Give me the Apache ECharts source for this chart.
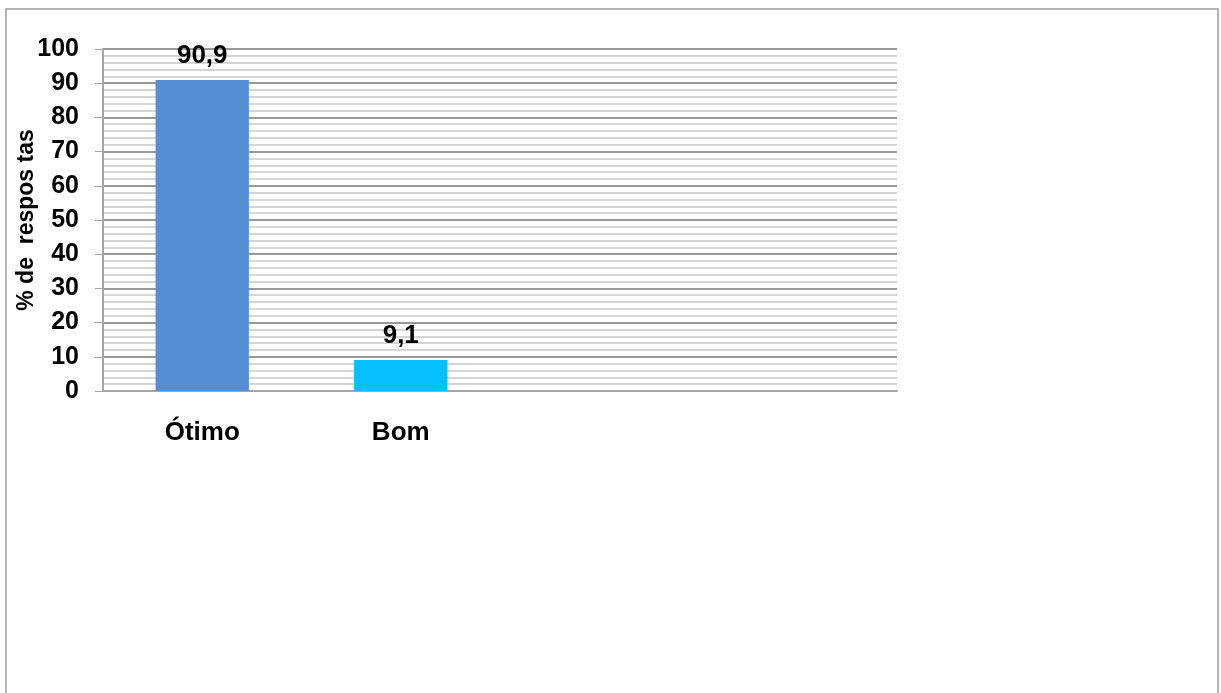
<!DOCTYPE html>
<html>
<head>
<meta charset="utf-8">
<style>
  html, body { margin: 0; padding: 0; background: #fff; }
  #chart { width: 1221px; height: 693px; }
</style>
<script src="https://cdn.jsdelivr.net/npm/echarts@6/dist/echarts.min.js"></script>
</head>
<body>
<div id="chart"></div>
<script>
// Response categories (two trailing slots keep the plot's empty space on the right)
const categories = ['Ótimo', 'Bom', '', ''];
// Share of responses per category, in percent
const percentValues = [90.9, 9.1, null, null];
const barColors = ['#558ED5', '#05BFFE', '#558ED5', '#558ED5'];
const yAxisTitle = '% de  respos tas';

const FONT = '"Liberation Sans", Arial, sans-serif';

const chart = echarts.init(document.getElementById('chart'), null, { renderer: 'canvas' });

chart.setOption({
  backgroundColor: '#ffffff',
  animation: false,
  graphic: [{
    type: 'rect',
    silent: true,
    shape: { x: 6, y: 9, width: 1212, height: 760 },
    style: { fill: 'none', stroke: '#9a9a9a', lineWidth: 1.5 }
  }],
  grid: {
    left: 103, right: 324, top: 49, bottom: 302,
    containLabel: false,
    outerBoundsMode: 'none'
  },
  xAxis: {
    type: 'category',
    data: categories,
    axisLine: { show: true, lineStyle: { color: '#a6a6a6', width: 2 } },
    axisTick: { show: false },
    axisLabel: {
      margin: 29,
      color: '#000',
      fontFamily: FONT,
      fontWeight: 'bold',
      fontSize: 26
    },
    splitLine: { show: false }
  },
  yAxis: {
    type: 'value',
    min: 0,
    max: 100,
    interval: 10,
    name: yAxisTitle,
    nameLocation: 'middle',
    nameRotate: 90,
    nameGap: 65,
    nameMoveOverlap: false,
    nameTextStyle: {
      color: '#000',
      fontFamily: FONT,
      fontWeight: 'bold',
      fontSize: 23
    },
    axisLine: { show: true, lineStyle: { color: '#a6a6a6', width: 2 } },
    axisTick: { show: true, length: 8, lineStyle: { color: '#a6a6a6', width: 1 } },
    axisLabel: {
      margin: 24,
      color: '#000',
      fontFamily: FONT,
      fontWeight: 'bold',
      fontSize: 25
    },
    splitLine: { show: true, lineStyle: { color: '#777777', width: 1.5 } },
    minorTick: { show: false, splitNumber: 5 },
    minorSplitLine: { show: true, lineStyle: { color: '#c8c8c8', width: 1.5 } }
  },
  series: [{
    type: 'bar',
    data: percentValues.map((v, i) => ({ value: v, itemStyle: { color: barColors[i] } })),
    barWidth: '47%',
    label: {
      show: true,
      position: 'top',
      distance: 11,
      color: '#000',
      fontFamily: FONT,
      fontWeight: 'bold',
      fontSize: 26,
      formatter: p => (p.value == null ? '' : String(p.value).replace('.', ','))
    }
  }]
});
</script>
</body>
</html>
